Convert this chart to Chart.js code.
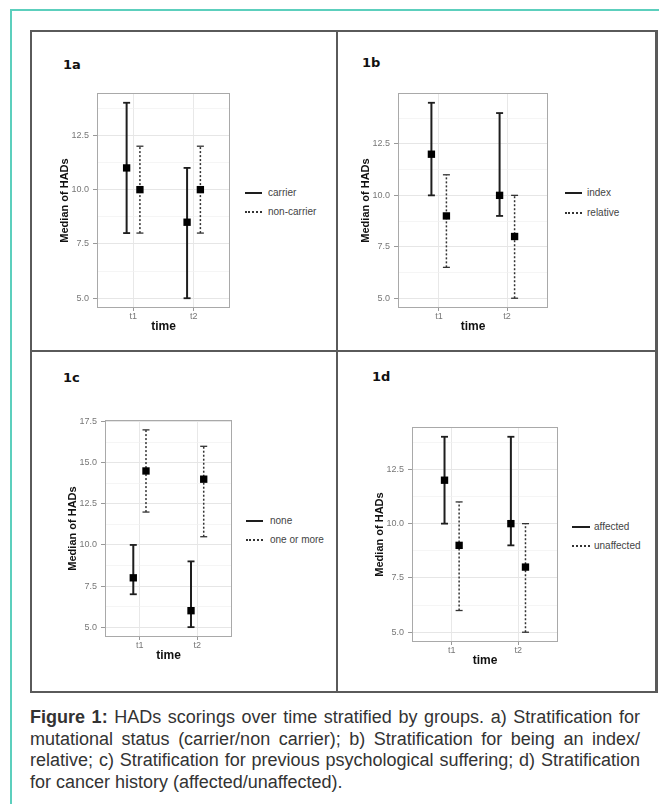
<!DOCTYPE html>
<html><head><meta charset="utf-8">
<script src="https://cdn.jsdelivr.net/npm/chart.js@4/dist/chart.umd.min.js"></script>
<style>
html,body{margin:0;padding:0;background:#fff;}
#page{position:relative;width:659px;height:804px;overflow:hidden;font-family:'Liberation Sans',Arial,sans-serif;}
.abs{position:absolute;}
.plabel{position:absolute;font-family:'DejaVu Sans',sans-serif;font-weight:bold;font-size:13px;line-height:16px;color:#111;}
.lg-text{position:absolute;font-size:10px;line-height:12px;color:#444;white-space:nowrap;}
.cap{position:absolute;left:30px;width:610px;font-size:18px;line-height:21.7px;color:#333;text-align:justify;white-space:nowrap;}
.cap.j{text-align-last:justify;}
</style></head><body><div id="page">
<div class="abs" style="left:10px;top:9px;width:649px;height:2px;background:#5ccfbd"></div>
<div class="abs" style="left:10px;top:9px;width:2px;height:795px;background:#5ccfbd"></div>
<div class="abs" style="left:30px;top:30px;width:623px;height:659px;border:2px solid #5a5a5a;border-right-width:3px"></div>
<div class="abs" style="left:336px;top:31px;width:2px;height:660px;background:#5a5a5a"></div>
<div class="abs" style="left:31px;top:350px;width:624px;height:2px;background:#5a5a5a"></div>
<div id="charts"></div>
<div class="cap j" style="top:707px"><b>Figure 1:</b> HADs scorings over time stratified by groups. a) Stratification for</div>
<div class="cap j" style="top:728.7px">mutational status (carrier/non carrier); b) Stratification for being an index/</div>
<div class="cap j" style="top:750.4px">relative; c) Stratification for previous psychological suffering; d) Stratification</div>
<div class="cap" style="top:772.1px">for cancer history (affected/unaffected).</div>
</div>
<script>
// ---- data ----
const timeLabels = ['t1', 't2'];

const groups1a = ['carrier', 'non-carrier'];
const median1a = [[11, 8.5], [10, 10]];
const lower1a  = [[8, 5], [8, 8]];
const upper1a  = [[14, 11], [12, 12]];

const groups1b = ['index', 'relative'];
const median1b = [[12, 10], [9, 8]];
const lower1b  = [[10, 9], [6.5, 5]];
const upper1b  = [[14.5, 14], [11, 10]];

const groups1c = ['none', 'one or more'];
const median1c = [[8, 6], [14.5, 14]];
const lower1c  = [[7, 5], [12, 10.5]];
const upper1c  = [[10, 9], [17, 16]];

const groups1d = ['affected', 'unaffected'];
const median1d = [[12, 10], [9, 8]];
const lower1d  = [[10, 9], [6, 5]];
const upper1d  = [[14, 14], [11, 10]];

const panelTitles = ['1a', '1b', '1c', '1d'];
const yTitle = 'Median of HADs';
const xTitle = 'time';

// ---- layout / style ----
const DODGE = 0.11;
const YAXIS_W = 45, XAXIS_H = 30, PAD_T = 10, PAD_R = 6;
const STYLES = [
  {color:'#1e1e1e', width:2, dash:[], cap:1.8, css:'2px solid #1e1e1e'},
  {color:'#333', width:1.5, dash:[2,2], cap:1.3, css:'2px dotted #333'}
];
const panels = [
  {title:panelTitles[0], groups:groups1a, median:median1a, lower:lower1a, upper:upper1a,
   L:97,T:93,R:230,B:308, lab:[63,65], lg:{sx:245,sw:17,tx:268,y:[193,212]}},
  {title:panelTitles[1], groups:groups1b, median:median1b, lower:lower1b, upper:upper1b,
   L:398,T:93,R:548,B:308, lab:[362,63], lg:{sx:565,sw:17,tx:587,y:[193,213]}},
  {title:panelTitles[2], groups:groups1c, median:median1c, lower:lower1c, upper:upper1c,
   L:105,T:420,R:232,B:637, lab:[63,378], lg:{sx:246,sw:17,tx:270,y:[521,540]}},
  {title:panelTitles[3], groups:groups1d, median:median1d, lower:lower1d, upper:upper1d,
   L:412,T:427,R:558,B:642, lab:[372,377], lg:{sx:572,sw:18,tx:594,y:[527,546]}}
];

const panelBorder = {
  id:'panelBorder',
  beforeDatasetsDraw(chart){
    const a = chart.chartArea, ctx = chart.ctx;
    ctx.save();
    ctx.strokeStyle = '#a9a9a9';
    ctx.lineWidth = 1;
    ctx.strokeRect(Math.round(a.left)+0.5, Math.round(a.top)+0.5, Math.round(a.right-a.left)-1, Math.round(a.bottom-a.top)-1);
    ctx.restore();
  }
};

const isMajor = v => Math.abs(v/2.5 - Math.round(v/2.5)) < 1e-6;

function buildDatasets(p){
  const ds = [];
  p.groups.forEach((g, gi) => {
    const off = gi === 0 ? -DODGE : DODGE;
    const st = STYLES[gi];
    timeLabels.forEach((t, ti) => {
      ds.push({
        type:'line', label:g+' '+t,
        data:[{x:ti+1+off, y:p.lower[gi][ti]}, {x:ti+1+off, y:p.upper[gi][ti]}],
        borderColor:st.color, borderWidth:st.width, borderDash:st.dash,
        pointStyle:'line', pointRadius:3.5, pointBorderWidth:st.cap,
        pointBorderColor:st.color, pointBackgroundColor:st.color,
        showLine:true, fill:false, tension:0, order:2
      });
    });
    ds.push({
      type:'scatter', label:g,
      data:timeLabels.map((t, ti) => ({x:ti+1+off, y:p.median[gi][ti]})),
      pointStyle:'rect', pointRadius:5.2, pointBackgroundColor:'#000',
      pointBorderColor:'#000', pointBorderWidth:0, order:1
    });
  });
  return ds;
}

const host = document.getElementById('charts');
const page = document.getElementById('page');

panels.forEach(p => {
  const all = p.lower.flat().concat(p.upper.flat(), p.median.flat());
  const dmin = Math.min(...all), dmax = Math.max(...all);
  const span = dmax - dmin;
  const ymin = dmin - 0.05*span, ymax = dmax + 0.05*span;

  const w = YAXIS_W + (p.R - p.L) + PAD_R;
  const h = PAD_T + (p.B - p.T) + XAXIS_H;
  const cv = document.createElement('canvas');
  cv.width = w; cv.height = h;
  cv.style.cssText = `position:absolute;left:${p.L-YAXIS_W}px;top:${p.T-PAD_T}px;width:${w}px;height:${h}px;`;
  host.appendChild(cv);

  new Chart(cv, {
    type:'scatter',
    data:{datasets:buildDatasets(p)},
    options:{
      responsive:false, devicePixelRatio:1, animation:false,
      layout:{padding:{top:PAD_T, right:PAD_R, left:0, bottom:0}},
      plugins:{legend:{display:false}, tooltip:{enabled:false}},
      scales:{
        x:{
          type:'linear', min:0.4, max:2.6,
          afterBuildTicks: s => { s.ticks = timeLabels.map((t,i) => ({value:i+1})); },
          afterFit: s => { s.height = XAXIS_H; },
          ticks:{autoSkip:false, maxRotation:0, padding:0, color:'#777',
                 font:{family:'Liberation Sans', size:9},
                 callback: v => timeLabels[Math.round(v)-1]},
          grid:{color:'#e8e8e8', lineWidth:1, tickLength:3, tickColor:'#999', tickWidth:1},
          border:{display:false},
          title:{display:true, text:xTitle, color:'#111', padding:4,
                 font:{family:'Liberation Sans', size:12, weight:'bold'}}
        },
        y:{
          type:'linear', min:ymin, max:ymax,
          afterBuildTicks: s => {
            const out = [];
            for (let v = Math.ceil(ymin/1.25)*1.25; v <= ymax + 1e-9; v += 1.25) out.push({value:+v.toFixed(4)});
            s.ticks = out;
          },
          afterFit: s => { s.width = YAXIS_W; },
          ticks:{autoSkip:false, padding:4, color:'#777',
                 font:{family:'Liberation Sans', size:9},
                 callback: v => isMajor(v) ? v.toFixed(1) : ''},
          grid:{
            color: c => (c.tick && isMajor(c.tick.value)) ? '#e6e6e6' : '#f1f1f1',
            lineWidth: c => (c.tick && isMajor(c.tick.value)) ? 1 : 0.7,
            tickColor: c => (c.tick && isMajor(c.tick.value)) ? '#999' : 'rgba(0,0,0,0)',
            tickWidth:1, tickLength:4
          },
          border:{display:false},
          title:{display:true, text:yTitle, color:'#111', padding:6,
                 font:{family:'Liberation Sans', size:11, weight:'bold'}}
        }
      }
    },
    plugins:[panelBorder]
  });

  // panel label
  const lab = document.createElement('div');
  lab.className = 'plabel';
  lab.style.left = p.lab[0] + 'px';
  lab.style.top = (p.lab[1] - 8) + 'px';
  lab.textContent = p.title;
  page.appendChild(lab);

  // legend
  p.groups.forEach((g, gi) => {
    const s = document.createElement('div');
    s.className = 'abs';
    s.style.cssText = `left:${p.lg.sx}px;top:${p.lg.y[gi]-1}px;width:${p.lg.sw}px;height:0;border-top:${STYLES[gi].css};`;
    page.appendChild(s);
    const t = document.createElement('div');
    t.className = 'lg-text';
    t.style.left = p.lg.tx + 'px';
    t.style.top = (p.lg.y[gi] - 6) + 'px';
    t.textContent = g;
    page.appendChild(t);
  });
});
</script>
</body></html>
